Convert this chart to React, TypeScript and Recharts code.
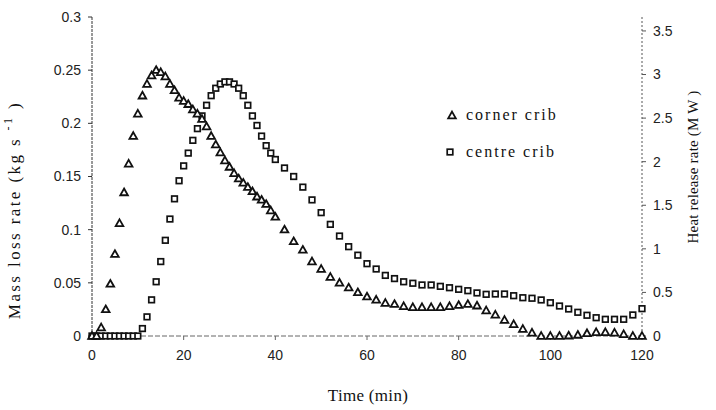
import { ScatterChart, Scatter, XAxis, YAxis, Legend } from 'recharts'

// sampling times (min): every minute to 40, then every 2 minutes
const minutes = [
  0, 1, 2, 3, 4, 5, 6, 7, 8, 9, 10, 11, 12, 13, 14, 15, 16, 17, 18, 19, 20,
  21, 22, 23, 24, 25, 26, 27, 28, 29, 30, 31, 32, 33, 34, 35, 36, 37, 38, 39, 40,
  42, 44, 46, 48, 50, 52, 54, 56, 58, 60, 62, 64, 66, 68, 70, 72, 74, 76, 78, 80,
  82, 84, 86, 88, 90, 92, 94, 96, 98, 100, 102, 104, 106, 108, 110, 112, 114, 116, 118, 120,
]

// mass loss rate, kg/s
const cornerCrib = [
  0, 0, 0.008, 0.025, 0.049, 0.077, 0.106, 0.135, 0.162, 0.188,
  0.209, 0.226, 0.237, 0.245, 0.25, 0.248, 0.244, 0.237, 0.231, 0.224,
  0.221, 0.218, 0.213, 0.209, 0.204, 0.197, 0.188, 0.18, 0.1725, 0.165,
  0.159, 0.153, 0.148, 0.144, 0.14, 0.136, 0.131, 0.128, 0.124, 0.118,
  0.112,
  0.1, 0.089, 0.081, 0.07, 0.063, 0.0555, 0.05, 0.0455, 0.041, 0.037,
  0.034, 0.031, 0.03, 0.028, 0.027, 0.027, 0.027, 0.027, 0.028, 0.029,
  0.03, 0.0285, 0.024, 0.02, 0.015, 0.011, 0.0066, 0.003, 0, 0,
  0, 0.0003, 0.001, 0.0025, 0.0035, 0.0035, 0.003, 0.0016, 0, 0,
]

const centreCrib = [
  0, 0, 0, 0, 0, 0, 0, 0, 0, 0,
  0, 0.007, 0.018, 0.034, 0.051, 0.07, 0.09, 0.11, 0.129, 0.146,
  0.16, 0.172, 0.184, 0.195, 0.207, 0.217, 0.226, 0.233, 0.237, 0.239,
  0.239, 0.237, 0.233, 0.226, 0.217, 0.207, 0.198, 0.188, 0.179, 0.172,
  0.166,
  0.158, 0.15, 0.14, 0.128, 0.116, 0.105, 0.094, 0.084, 0.076, 0.068,
  0.063, 0.057, 0.054, 0.051, 0.0496, 0.048, 0.048, 0.0467, 0.0454, 0.0439,
  0.0426, 0.0405, 0.0392, 0.0395, 0.0395, 0.0379, 0.036, 0.0355, 0.0339, 0.0313,
  0.0282, 0.0254, 0.0223, 0.0195, 0.0172, 0.0157, 0.0157, 0.0157, 0.0198, 0.0257,
]

const timeTicks = [0, 20, 40, 60, 80, 100, 120]
const massTicks = [0, 0.05, 0.1, 0.15, 0.2, 0.25, 0.3]
const heatTicks = [0, 0.5, 1, 1.5, 2, 2.5, 3, 3.5]

const cornerData = minutes.map((t, i) => ({ t, rate: cornerCrib[i] }))
const centreData = minutes.map((t, i) => ({ t, rate: centreCrib[i] }))

const INK = '#111'
const TICK_FONT = { fill: '#222', fontSize: 14, fontFamily: '"Liberation Sans Narrow", "Liberation Sans", Arial, sans-serif' }
const SERIF = '"Liberation Serif", "Times New Roman", serif'

const Triangle = ({ cx, cy }: any) => (
  <path
    d={`M${cx},${cy - 3.9} L${cx + 3.8},${cy + 2.8} L${cx - 3.8},${cy + 2.8} Z`}
    fill="#fff"
    stroke={INK}
    strokeWidth={1.8}
  />
)

const Square = ({ cx, cy }: any) => (
  <rect x={cx - 2.8} y={cy - 2.8} width={5.6} height={5.6} fill="#fff" stroke={INK} strokeWidth={1.7} />
)

const massTitle = () => (
  <text x={20} y={210} transform="rotate(-90 20 210)" textAnchor="middle" fontFamily={SERIF} fontSize={17} letterSpacing={2.4} fill={INK}>
    Mass loss rate (kg s <tspan dy={-8} fontSize={12}> -1</tspan>
    <tspan dy={8}> )</tspan>
  </text>
)

const heatTitle = () => (
  <text x={698} y={167} transform="rotate(-90 698 167)" textAnchor="middle" fontFamily={SERIF} fontSize={15} letterSpacing={0.2} fill={INK}>
    Heat release rate (M W )
  </text>
)

const timeTitle = () => (
  <text x={368} y={401} textAnchor="middle" fontFamily={SERIF} fontSize={17} letterSpacing={0.3} fill={INK}>
    Time (min)
  </text>
)

const renderLegend = () => (
  <div style={{ fontFamily: SERIF, fontSize: 16, letterSpacing: 2, color: INK, lineHeight: '37px' }}>
    <div style={{ display: 'flex', alignItems: 'center' }}>
      <svg width={20} height={12} style={{ marginRight: 2 }}>
        <Triangle cx={8} cy={6.5} />
      </svg>
      corner crib
    </div>
    <div style={{ display: 'flex', alignItems: 'center' }}>
      <svg width={20} height={12} style={{ marginRight: 2 }}>
        <Square cx={6} cy={6} />
      </svg>
      centre crib
    </div>
  </div>
)

export default function App() {
  return (
    <div style={{ position: 'absolute', left: 0, top: 0, background: '#fff' }}>
      <ScatterChart width={716} height={410} margin={{ top: 17, right: 0, bottom: 0, left: 0 }}>
        <XAxis
          type="number"
          dataKey="t"
          domain={[0, 120]}
          ticks={timeTicks}
          height={74}
          tick={TICK_FONT}
          tickSize={4}
          tickMargin={10}
          axisLine={{ stroke: '#666', strokeDasharray: '5 2' }}
          tickLine={{ stroke: '#666' }}
          label={timeTitle}
        />
        <YAxis
          yAxisId="mass"
          type="number"
          dataKey="rate"
          domain={[0, 0.3]}
          ticks={massTicks}
          width={92}
          tick={TICK_FONT}
          tickSize={4}
          tickMargin={7}
          axisLine={{ stroke: '#333', strokeDasharray: '3 1' }}
          tickLine={{ stroke: '#333' }}
          label={massTitle}
        />
        <YAxis
          yAxisId="heat"
          orientation="right"
          type="number"
          domain={[0, 3.66]}
          allowDataOverflow
          ticks={heatTicks}
          width={74}
          tick={{ ...TICK_FONT, textAnchor: 'start' }}
          tickSize={4}
          tickMargin={7}
          axisLine={{ stroke: '#555', strokeDasharray: '2 2' }}
          tickLine={{ stroke: '#555' }}
          label={heatTitle}
        />
        <Legend
          layout="vertical"
          align="center"
          verticalAlign="middle"
          content={renderLegend}
          wrapperStyle={{ left: 444, top: 96, width: 160 }}
        />
        <Scatter name="centre crib" yAxisId="mass" data={centreData} shape={Square} isAnimationActive={false} />
        <Scatter name="corner crib" yAxisId="mass" data={cornerData} shape={Triangle} isAnimationActive={false} />
      </ScatterChart>
    </div>
  )
}
